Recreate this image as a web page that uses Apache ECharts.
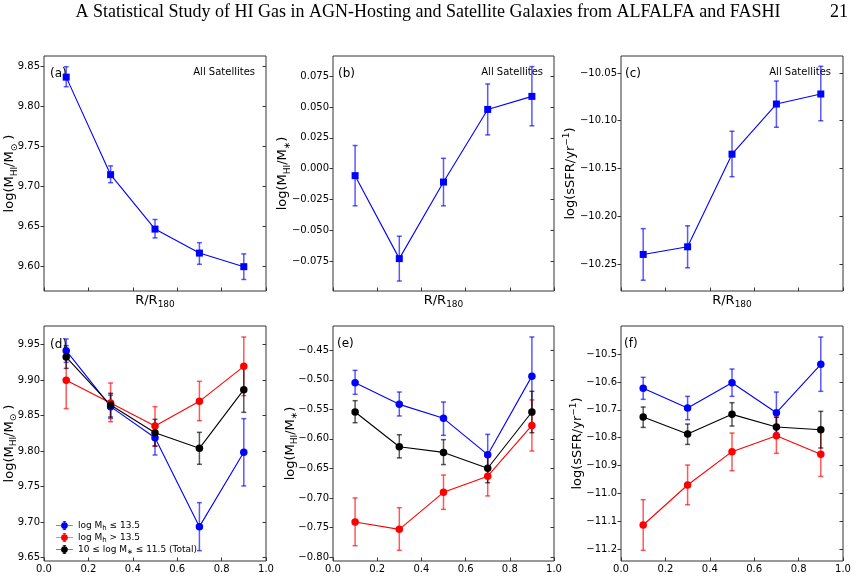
<!DOCTYPE html>
<html><head><meta charset="utf-8">
<script src="https://cdn.jsdelivr.net/npm/echarts@6/dist/echarts.min.js"></script>
<style>html,body{margin:0;padding:0;background:#fff}#c{width:858px;height:577px}</style>
</head><body><div id="c"></div>
<script>
// ---------- DATA ----------
const xBins = [0.1, 0.3, 0.5, 0.7, 0.9];
const xTicks = [0, 0.2, 0.4, 0.6, 0.8, 1.0];

// (a) all satellites log(MHI/Msun)
const aHI   = [9.837, 9.715, 9.647, 9.617, 9.600];
const aHILo = [9.825, 9.705, 9.636, 9.603, 9.584];
const aHIHi = [9.850, 9.726, 9.659, 9.630, 9.616];
// (b) all satellites log(MHI/M*)
const bFrac   = [-0.0057, -0.0731, -0.0109, 0.0481, 0.0587];
const bFracLo = [-0.0302, -0.0913, -0.0302, 0.0274, 0.0348];
const bFracHi = [0.0188, -0.0549, 0.0084, 0.0688, 0.0829];
// (c) all satellites log(sSFR)
const cSSFR   = [-10.240, -10.232, -10.135, -10.0825, -10.072];
const cSSFRLo = [-10.267, -10.254, -10.1586, -10.1068, -10.100];
const cSSFRHi = [-10.213, -10.210, -10.111, -10.0584, -10.043];

// (d) log(MHI/Msun) by halo mass
const dBlue   = [9.9415, 9.8627, 9.819, 9.6937, 9.7984];
const dBlueLo = [9.9251, 9.846, 9.7946, 9.6599, 9.751];
const dBlueHi = [9.958, 9.879, 9.8359, 9.7275, 9.8458];
const dRed    = [9.900, 9.8678, 9.8354, 9.8702, 9.9195];
const dRedLo  = [9.860, 9.8415, 9.8068, 9.843, 9.8782];
const dRedHi  = [9.940, 9.896, 9.8627, 9.8984, 9.9608];
const dBlack   = [9.9326, 9.865, 9.826, 9.804, 9.8866];
const dBlackLo = [9.9166, 9.8481, 9.8073, 9.7815, 9.8547];
const dBlackHi = [9.9486, 9.8815, 9.8448, 9.8265, 9.9185];

// (e) log(MHI/M*) by halo mass
const eBlue   = [-0.5048, -0.5415, -0.5652, -0.6267, -0.4937];
const eBlueLo = [-0.5245, -0.5612, -0.594, -0.6612, -0.559];
const eBlueHi = [-0.4839, -0.5206, -0.5375, -0.5923, -0.4274];
const eRed    = [-0.7408, -0.7532, -0.6905, -0.6632, -0.5772];
const eRedLo  = [-0.7809, -0.7888, -0.7193, -0.6966, -0.6206];
const eRedHi  = [-0.700, -0.7165, -0.6612, -0.6298, -0.534];
const eBlack   = [-0.5545, -0.6134, -0.6229, -0.6497, -0.5545];
const eBlackLo = [-0.5726, -0.6322, -0.6435, -0.6742, -0.5895];
const eBlackHi = [-0.5353, -0.593, -0.6013, -0.6297, -0.5194];

// (f) log(sSFR) by halo mass
const fBlue   = [-10.623, -10.6935, -10.6027, -10.7103, -10.537];
const fBlueLo = [-10.6625, -10.7354, -10.6517, -10.7832, -10.6338];
const fBlueHi = [-10.5836, -10.6517, -10.5538, -10.6362, -10.4391];
const fRed    = [-11.1129, -10.9695, -10.850, -10.7927, -10.8596];
const fRedLo  = [-11.2036, -11.040, -10.9182, -10.856, -10.9385];
const fRedHi  = [-11.0221, -10.8978, -10.7832, -10.726, -10.7784];
const fBlack   = [-10.7258, -10.7867, -10.7163, -10.7617, -10.7712];
const fBlackLo = [-10.763, -10.824, -10.7581, -10.7967, -10.8369];
const fBlackHi = [-10.69, -10.751, -10.6744, -10.7267, -10.7055];

// y ranges and tick labels
const aYRange = [9.5696, 9.8634];   const aYTicks = [9.60, 9.65, 9.70, 9.75, 9.80, 9.85];
const bYRange = [-0.0994, 0.0915];  const bYTicks = [-0.075, -0.05, -0.025, 0, 0.025, 0.05, 0.075];
const cYRange = [-10.2783, -10.0322]; const cYTicks = [-10.25, -10.20, -10.15, -10.10, -10.05];
const dYRange = [9.6453, 9.9763];   const dYTicks = [9.65, 9.70, 9.75, 9.80, 9.85, 9.90, 9.95];
const eYRange = [-0.8068, -0.4088]; const eYTicks = [-0.80, -0.75, -0.70, -0.65, -0.60, -0.55, -0.50, -0.45];
const fYRange = [-11.2418, -10.3996]; const fYTicks = [-11.2, -11.1, -11.0, -10.9, -10.8, -10.7, -10.6, -10.5];

const legendNames = ['log Mh ≤ 13.5', 'log Mh > 13.5', '10 ≤ log M* ≤ 11.5 (Total)'];

// ---------- BUILD ----------
const FONT = 'DejaVu Sans';
const BLUE = '#0000ff', RED = '#ff0000', BLACK = '#000000';
const grids = [
  {left: 44, top: 56, width: 222, height: 235},
  {left: 333, top: 56, width: 221, height: 235},
  {left: 621, top: 56, width: 222, height: 235},
  {left: 44, top: 326, width: 222, height: 235},
  {left: 333, top: 326, width: 221, height: 235},
  {left: 621, top: 326, width: 222, height: 235}
];
const richName = {
  sub: {fontFamily: FONT, fontSize: 9, lineHeight: 9, verticalAlign: 'bottom', color: '#000'},
  sup: {fontFamily: FONT, fontSize: 9, lineHeight: 9, verticalAlign: 'top', color: '#000'},
  t: {fontFamily: FONT, fontSize: 13, lineHeight: 18, color: '#000'}
};
const yNames = [
  '{t|log(M}{sub|HI}{t|/M}{sub|⊙}{t| )}',
  '{t|log(M}{sub|HI}{t|/M}{sub|∗}{t|)}',
  '{t|log(sSFR/yr}{sup|−1}{t|)}',
  '{t|log(M}{sub|HI}{t|/M}{sub|⊙}{t| )}',
  '{t|log(M}{sub|HI}{t|/M}{sub|∗}{t|)}',
  '{t|log(sSFR/yr}{sup|−1}{t|)}'
];
const yGaps = [25, 41, 41, 25.5, 33.5, 34];
const yRanges = [aYRange, bYRange, cYRange, dYRange, eYRange, fYRange];
const yTickSets = [aYTicks, bYTicks, cYTicks, dYTicks, eYTicks, fYTicks];
const yDec = [2, 3, 2, 2, 2, 1];

const fmt = d => v => v.toFixed(d).replace('-', '\u2212');

const xAxis = [], yAxis = [], series = [];
grids.forEach((g, i) => {
  const bottomRow = i >= 3;
  xAxis.push({
    type: 'value', gridIndex: i, min: 0, max: 1, interval: 0.2,
    axisLine: {show: false, onZero: false}, splitLine: {show: false},
    axisTick: {show: true, inside: true, length: 3.5, lineStyle: {color: '#333'}},
    axisLabel: {show: bottomRow, margin: 3, fontFamily: FONT, fontSize: 10, color: '#000', formatter: fmt(1)},
    name: bottomRow ? '' : '{t|R/R}{sub|180}',
    nameLocation: 'middle', nameGap: 2, nameMoveOverlap: false,
    nameTextStyle: {rich: {t: {fontFamily: FONT, fontSize: 13, lineHeight: 16, color: '#000'}, sub: {fontFamily: FONT, fontSize: 9, lineHeight: 8, verticalAlign: 'bottom', color: '#000'}}}
  });
  yAxis.push({
    type: 'value', gridIndex: i, min: yRanges[i][0], max: yRanges[i][1],
    axisLine: {show: false, onZero: false}, splitLine: {show: false},
    axisTick: {show: true, inside: false, length: 3.5, customValues: yTickSets[i], lineStyle: {color: '#333'}},
    axisLabel: {show: true, margin: 4, customValues: yTickSets[i], fontFamily: FONT, fontSize: 10, color: '#000', formatter: fmt(yDec[i])},
    name: yNames[i], nameLocation: 'middle', nameGap: yGaps[i], nameRotate: 90, nameMoveOverlap: false,
    nameTextStyle: {rich: richName}
  });
  yAxis.push({
    type: 'value', gridIndex: i, position: 'right', min: yRanges[i][0], max: yRanges[i][1],
    axisLine: {show: false, onZero: false}, splitLine: {show: false},
    axisTick: {show: true, inside: true, length: 3.5, customValues: yTickSets[i], lineStyle: {color: '#333'}},
    axisLabel: {show: false, customValues: yTickSets[i]}
  });
});

function errSeries(pi, lo, hi, color) {
  return {
    type: 'custom', xAxisIndex: pi, yAxisIndex: pi * 2, silent: true, z: 2,
    data: xBins.map((x, k) => [x, lo[k], hi[k]]),
    renderItem: function (params, api) {
      const a = api.coord([api.value(0), api.value(1)]);
      const b = api.coord([api.value(0), api.value(2)]);
      const cap = 2.5;
      const st = {stroke: color, lineWidth: 1.5, opacity: 0.65};
      return {type: 'group', children: [
        {type: 'line', shape: {x1: a[0], y1: a[1], x2: b[0], y2: b[1]}, style: st},
        {type: 'line', shape: {x1: a[0] - cap, y1: a[1], x2: a[0] + cap, y2: a[1]}, style: st},
        {type: 'line', shape: {x1: b[0] - cap, y1: b[1], x2: b[0] + cap, y2: b[1]}, style: st}
      ]};
    }
  };
}
function lineSeries(pi, vals, color, symbol, name) {
  return {
    type: 'line', name: name, xAxisIndex: pi, yAxisIndex: pi * 2, z: 3,
    data: xBins.map((x, k) => [x, vals[k]]),
    symbol: symbol, symbolSize: symbol === 'rect' ? 7 : 7.5,
    itemStyle: {color: color}, lineStyle: {color: color, width: 1.1},
    showSymbol: true
  };
}
series.push(errSeries(0, aHILo, aHIHi, BLUE), lineSeries(0, aHI, BLUE, 'rect'));
series.push(errSeries(1, bFracLo, bFracHi, BLUE), lineSeries(1, bFrac, BLUE, 'rect'));
series.push(errSeries(2, cSSFRLo, cSSFRHi, BLUE), lineSeries(2, cSSFR, BLUE, 'rect'));

const groups = [
  [3, [dBlue, dBlueLo, dBlueHi], [dRed, dRedLo, dRedHi], [dBlack, dBlackLo, dBlackHi]],
  [4, [eBlue, eBlueLo, eBlueHi], [eRed, eRedLo, eRedHi], [eBlack, eBlackLo, eBlackHi]],
  [5, [fBlue, fBlueLo, fBlueHi], [fRed, fRedLo, fRedHi], [fBlack, fBlackLo, fBlackHi]]
];
groups.forEach(g => {
  const pi = g[0];
  [[g[1], BLUE, 0], [g[2], RED, 1], [g[3], BLACK, 2]].forEach(s => {
    series.push(errSeries(pi, s[0][1], s[0][2], s[1]));
    series.push(lineSeries(pi, s[0][0], s[1], 'circle', legendNames[s[2]]));
  });
});

const panelLabels = [['(a)', 50, 74], ['(b)', 338, 74], ['(c)', 625, 74], ['(d)', 50, 345], ['(e)', 337, 344], ['(f)', 624, 344]];
const graphic = [
  {type: 'text', x: 428, y: 12, style: {text: 'A Statistical Study of HI Gas in AGN-Hosting and Satellite Galaxies from ALFALFA and FASHI', font: '18px "Liberation Serif"', fill: '#000', align: 'center', verticalAlign: 'middle'}},
  {type: 'text', x: 848, y: 12, style: {text: '21', font: '18px "Liberation Serif"', fill: '#000', align: 'right', verticalAlign: 'middle'}}
];
panelLabels.forEach(p => graphic.push({type: 'text', x: p[1], y: p[2], style: {text: p[0], font: '12px "DejaVu Sans"', fill: '#000', verticalAlign: 'middle'}}));
[[255, 72], [543, 72], [831, 72]].forEach(p => graphic.push({type: 'text', x: p[0], y: p[1], style: {text: 'All Satellites', font: '10px "DejaVu Sans"', fill: '#000', align: 'right', verticalAlign: 'middle'}}));

// legend icon: line segments, marker and error bar pieces, no overlapping subpaths
const legendIcon = 'path://M0,7.4h9.2v1.2h-9.2z M20.8,7.4h9.2v1.2h-9.2z M9,8a6,6 0 1,1 12,0a6,6 0 1,1 -12,0z M14.3,0h1.4v2.1h-1.4z M14.3,13.9h1.4v2.1h-1.4z M12,0h6v1.2h-6z M12,14.8h6v1.2h-6z';
const legendRich = {
  t: {fontFamily: FONT, fontSize: 9, color: '#000', lineHeight: 12},
  s: {fontFamily: FONT, fontSize: 7, color: '#000', lineHeight: 7, verticalAlign: 'bottom'}
};

const option = {
  animation: false,
  grid: grids.map(g => Object.assign({show: true, borderColor: '#333', borderWidth: 1, backgroundColor: 'transparent'}, g)),
  xAxis: xAxis, yAxis: yAxis, series: series, graphic: graphic,
  legend: {
    data: legendNames, orient: 'vertical', left: 51, top: 516, itemGap: 1.5,
    itemWidth: 17, itemHeight: 9, icon: legendIcon, selectedMode: false,
    itemStyle: {borderWidth: 0},
    lineStyle: {width: 0},
    formatter: function (n) {
      if (n === legendNames[0]) return '{t|log M}{s|h}{t| ≤ 13.5}';
      if (n === legendNames[1]) return '{t|log M}{s|h}{t| > 13.5}';
      return '{t|10 ≤ log M}{s|∗}{t| ≤ 11.5 (Total)}';
    },
    textStyle: {rich: legendRich, padding: [0, 0, 0, 0]}
  }
};
const chart = echarts.init(document.getElementById('c'), null, {renderer: 'canvas'});
chart.setOption(option);
</script></body></html>
